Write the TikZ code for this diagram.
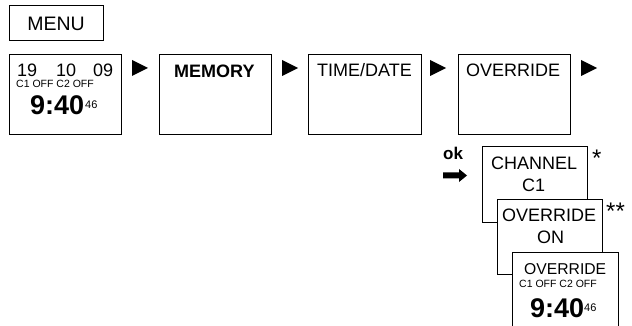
\documentclass[tikz,border=0pt]{standalone}
\usepackage{fontspec}
\setmainfont{Liberation Sans}

\begin{document}
\begin{tikzpicture}[x=1pt,y=-1pt,
        screen/.style={draw,line width=1pt,fill=white,inner sep=0pt},
        label/.style={inner sep=0pt,anchor=base west},
        big/.style={label,font=\fontsize{18}{20}\selectfont},
        small/.style={label,font=\fontsize{10.5}{12}\selectfont},
        clock/.style={label,font=\bfseries\fontsize{27}{30}\selectfont},
        secs/.style={label,font=\fontsize{11}{12}\selectfont},
        note/.style={label,font=\fontsize{24}{26}\selectfont}]
    \clip (0,0) rectangle (632,326); % page size of the reference

    \node[screen,minimum width=94pt,minimum height=35pt,
          font=\fontsize{19.5}{22}\selectfont] (menu) at (56,23.5) {MENU};

    % top row of screens
    \node[screen,minimum width=112pt,minimum height=80pt] (home) at (65,95) {};
    \node[screen,minimum width=112pt,minimum height=80pt] (memory) at (215,95) {};
    \node[screen,minimum width=113pt,minimum height=80pt] (timedate) at (364.5,95) {};
    \node[screen,minimum width=112pt,minimum height=80pt] (override) at (514,95) {};

    \node[big] (day) at (17,77) {19};
    \node[big] (month) at (56,77) {10};
    \node[big] (year) at (93,77) {09};
    \node[small] (chans) at (16,88) {C1 OFF C2 OFF};
    \node[clock] (time) at (30,115) {9:40};
    \node[secs] (sec) at (85,109) {46};
    \node[big,font=\bfseries\fontsize{18}{20}\selectfont] (memtxt) at (174,78) {MEMORY};
    \node[big] (tdtxt) at (317,77) {TIME/DATE};
    \node[big] (ovtxt) at (466,77) {OVERRIDE};

    \foreach \x in {132,282,430,581}{
        \fill (\x,60) -- (\x+16,68) -- (\x,76) -- cycle;
    };

    % ok key
    \node[label,font=\bfseries\fontsize{17}{18}\selectfont] (ok) at (443,160) {ok};
    \fill (443,172.5) -- (459,172.5) -- (459,169) -- (467,175.5)
        -- (459,182) -- (459,178.5) -- (443,178.5) -- cycle;

    % stack of screens after ok
    \node[screen,minimum width=105pt,minimum height=75pt] (channel) at (534.5,184.5) {};
    \node[big] (chtxt) at (491,169) {CHANNEL};
    \node[big] (c1) at (522,192) {C1};
    \node[note] (star) at (592,167) {*};

    \node[screen,minimum width=105pt,minimum height=75pt] (ovon) at (549.5,236.5) {};
    \node[big] (ovontxt) at (502,221) {OVERRIDE};
    \node[big] (on) at (537,243) {ON};
    \node[note] (stars) at (606,219) {**};

    \node[screen,minimum width=106pt,minimum height=80pt] (result) at (565,292) {};
    \node[label,font=\fontsize{15.7}{17}\selectfont] (restxt) at (524,274) {OVERRIDE};
    \node[small] (reschans) at (519,287) {C1 OFF C2 OFF};
    \node[clock] (restime) at (530,317) {9:40};
    \node[secs] (ressec) at (584,311) {46};
\end{tikzpicture}
\end{document}
